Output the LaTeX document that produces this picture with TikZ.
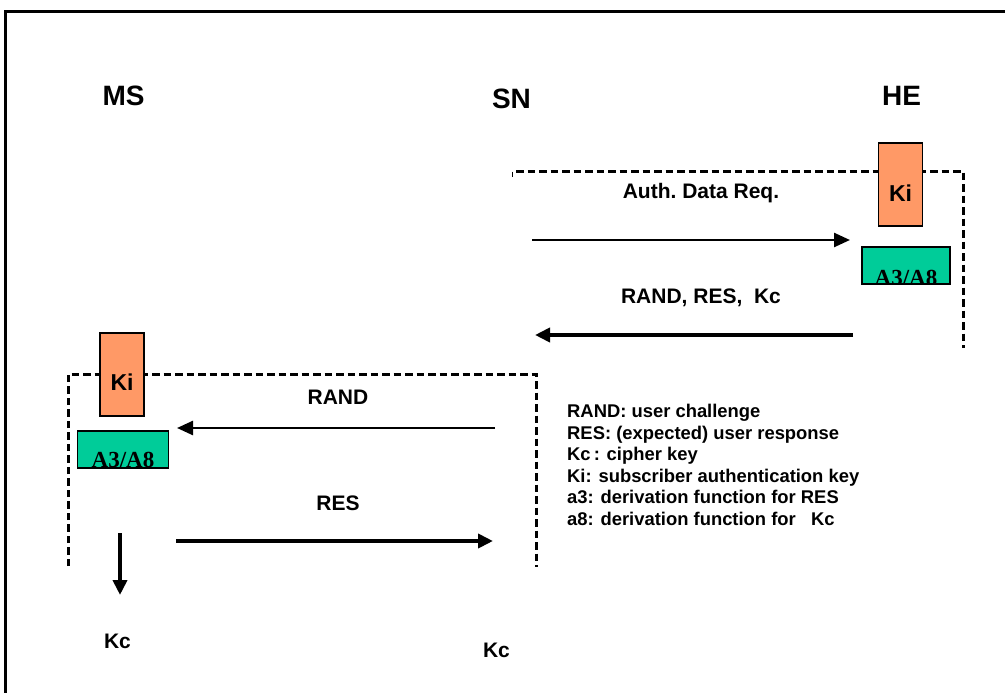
\documentclass[tikz,border=0pt]{standalone}
\usepackage{fontspec}
\setmainfont{Liberation Sans}
\newfontfamily\timesf{Liberation Serif}
\usetikzlibrary{arrows.meta}
\definecolor{kiorange}{HTML}{FF9966}
\definecolor{algreen}{HTML}{00CC99}
\begin{document}
\begin{tikzpicture}[x=1pt,y=-1pt,
  title/.style={font=\fontsize{28}{30}\selectfont\bfseries},
  lbl/.style={font=\fontsize{21}{24}\selectfont\bfseries},
  kclbl/.style={font=\fontsize{21}{24}\selectfont\bfseries, anchor=base},
  leg/.style={font=\fontsize{18.4}{22}\selectfont\bfseries, anchor=base west, inner sep=0pt},
  kibox/.style={draw=black, line width=1.5pt, fill=kiorange, inner sep=0pt},
  algbox/.style={draw=black, line width=1.5pt, fill=algreen, inner sep=0pt},
  kitext/.style={font=\fontsize{23}{24}\selectfont\bfseries},
  algtext/.style={font=\timesf\bfseries\fontsize{23}{24}\selectfont, anchor=base, inner sep=0pt},
  dashline/.style={line width=3pt, dash pattern=on 7.5pt off 4pt},
  thinarrow/.style={line width=2.5pt, -{Triangle[length=16pt,width=14pt]}},
  thickarrow/.style={line width=4pt, -{Triangle[length=15pt,width=14pt]}}
]
\useasboundingbox (0,0) rectangle (1005,693);
% outer frame
\draw[line width=3pt] (5.5,693) -- (5.5,12) -- (1005,12);

% titles
\node[title] (ms) at (123.5,95.5) {MS};
\node[title] (sn) at (511.5,98.5) {SN};
\node[title] (he) at (901.5,95.5) {HE};

% HE dashed frame
\coordinate (heTL) at (516,171);
\coordinate (heTR) at (963,171);
\coordinate (heBR) at (963,348);
\draw[dashline] (heTL) -- (heTR) -- (heBR);
\draw[line width=1pt] (512.7,171.5) -- (512.7,176.5);

% MS dashed frame
\coordinate (msBL) at (68,566);
\coordinate (msTL) at (68,374);
\coordinate (msTR) at (536,374);
\coordinate (msBR) at (536,567);
\draw[dashline] (msBL) -- (msTL) -- (msTR) -- (msBR);

% HE boxes
\node[kibox, minimum width=44pt, minimum height=83pt] (kiHE) at (900.5,184.5) {};
\node[kitext] (kiHEt) at (900.5,193) {Ki};
\node[algbox, minimum width=88pt, minimum height=37pt] (alHE) at (906,265.5) {};
\begin{scope}
  \clip (alHE.south west) rectangle (alHE.north east);
  \node[algtext] (alHEt) at (906,285) {A3/A8};
\end{scope}

% MS boxes
\node[kibox, minimum width=44pt, minimum height=83pt] (kiMS) at (122,374.5) {};
\node[kitext] (kiMSt) at (122,382) {Ki};
\node[algbox, minimum width=91pt, minimum height=37pt] (alMS) at (123,449.5) {};
\begin{scope}
  \clip (alMS.south west) rectangle (alMS.north east);
  \node[algtext] (alMSt) at (123,467) {A3/A8};
\end{scope}

% SN <-> HE messages
\node[lbl] (authlbl) at (701,193) {Auth.\ Data\ Req.};
\coordinate (a1s) at (532,240);
\coordinate (a1e) at (850,240);
\draw[thinarrow] (a1s) -- (a1e);

\node[lbl] (rrklbl) at (701,298) {RAND, RES,\ \ Kc};
\coordinate (a2s) at (853,335);
\coordinate (a2e) at (535,335);
\draw[thickarrow] (a2s) -- (a2e);

% MS <-> SN messages
\node[lbl] (randlbl) at (338,397) {RAND};
\coordinate (a3s) at (495,428);
\coordinate (a3e) at (177,428);
\draw[thinarrow] (a3s) -- (a3e);

\node[lbl] (reslbl) at (338,503) {RES};
\coordinate (a4s) at (176,541);
\coordinate (a4e) at (493,541);
\draw[thickarrow] (a4s) -- (a4e);

% Kc output
\coordinate (a5s) at (120,533);
\coordinate (a5e) at (120,595);
\draw[thickarrow] (a5s) -- (a5e);
\node[kclbl] (kcMS) at (117.5,648) {Kc};
\node[kclbl] (kcSN) at (496.5,657) {Kc};

% legend
\node[leg] (l1) at (567,417.5) {RAND: user challenge};
\node[leg] (l2) at (567,439.1) {RES: (expected) user response};
\node[leg] (l3) at (567,460.7) {Kc\,: cipher key};
\node[leg] (l4) at (567,482.3) {Ki: subscriber authentication key};
\node[leg] (l5) at (567,503.9) {a3: derivation function for RES};
\node[leg] (l6) at (567,525.5) {a8: derivation function for\ \ \ Kc};
\end{tikzpicture}
\end{document}
